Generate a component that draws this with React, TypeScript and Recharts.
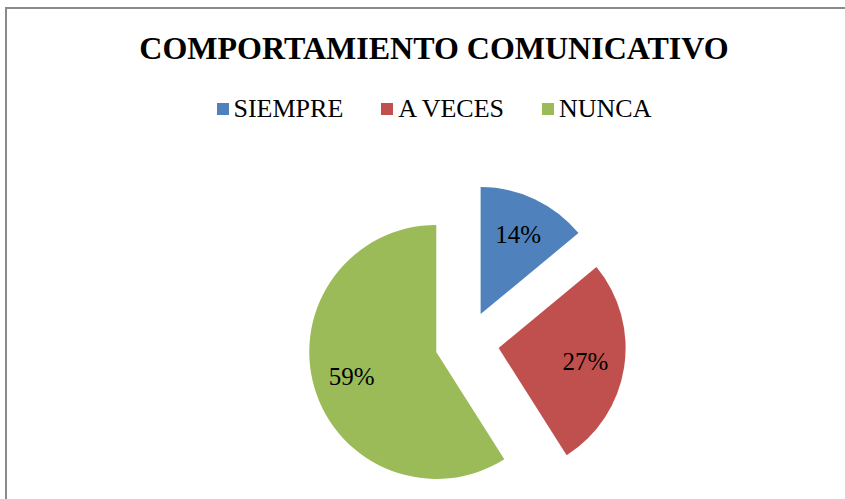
import React from "react";
import { Cell, Pie, PieChart } from "recharts";

const categories = ["SIEMPRE", "A VECES", "NUNCA"];
const values = [14, 27, 59];
const colors = ["#4F81BD", "#C0504D", "#9BBB59"];
const title = "COMPORTAMIENTO COMUNICATIVO";

const data = categories.map((name, i) => ({ name, value: values[i] }));
const total = values.reduce((a, b) => a + b, 0);

const CX = 467;
const CY = 343;
const R = 127;
const EXPLODE = 32;
const LABEL_R = 88;
const RAD = Math.PI / 180;
const FONT = '"Liberation Serif", "Times New Roman", serif';

// slice mid angles (recharts convention: start at 12 o'clock, clockwise)
const midAngles = values.map((v, i) => {
  const before = values.slice(0, i).reduce((a, b) => a + b, 0);
  return 90 - (360 * (before + v / 2)) / total;
});

function sliceLabel(which: number) {
  return (p: any) => {
    if (p.index !== which) return null;
    const x = p.cx + LABEL_R * Math.cos(-p.midAngle * RAD);
    const y = p.cy + LABEL_R * Math.sin(-p.midAngle * RAD);
    return (
      <text
        x={x}
        y={y}
        textAnchor="middle"
        dominantBaseline="central"
        fontFamily={FONT}
        fontSize={25}
        fill="#000"
      >
        {`${Math.round(p.percent * 100)}%`}
      </text>
    );
  };
}

export default function App() {
  return (
    <div style={{ position: "fixed", left: 0, top: 0, width: 845, height: 499, background: "#fff", overflow: "hidden" }}>
      <div
        style={{
          position: "absolute",
          left: 5,
          top: 7,
          width: 880,
          height: 520,
          border: "2px solid #8a8a8a",
          boxSizing: "border-box",
        }}
      />
      <div
        style={{
          position: "absolute",
          left: 0,
          width: 868,
          top: 28,
          textAlign: "center",
          fontFamily: FONT,
          fontWeight: "bold",
          fontSize: 32,
          lineHeight: "40px",
          color: "#000",
        }}
      >
        {title}
      </div>
      <div
        style={{
          position: "absolute",
          left: 0,
          width: 868,
          top: 93,
          display: "flex",
          justifyContent: "center",
          gap: 38,
          fontFamily: FONT,
          fontSize: 26,
          lineHeight: "32px",
          color: "#000",
        }}
      >
        {categories.map((c, i) => (
          <span key={c} style={{ display: "flex", alignItems: "center", gap: 5 }}>
            <span style={{ width: 12, height: 12, background: colors[i], display: "inline-block" }} />
            <span>{c}</span>
          </span>
        ))}
      </div>
      <PieChart
        width={845}
        height={499}
        margin={{ top: 0, right: 0, bottom: 0, left: 0 }}
        style={{ position: "absolute", left: 0, top: 0 }}
      >
        {categories.map((c, i) => (
          <Pie
            key={c}
            data={data}
            dataKey="value"
            nameKey="name"
            cx={CX + EXPLODE * Math.cos(midAngles[i] * RAD)}
            cy={CY - EXPLODE * Math.sin(midAngles[i] * RAD)}
            outerRadius={R}
            startAngle={90}
            endAngle={-270}
            stroke="none"
            labelLine={false}
            label={sliceLabel(i)}
            isAnimationActive={false}
          >
            {data.map((d, j) => (
              <Cell key={d.name} fill={j === i ? colors[j] : "none"} stroke="none" />
            ))}
          </Pie>
        ))}
      </PieChart>
    </div>
  );
}
